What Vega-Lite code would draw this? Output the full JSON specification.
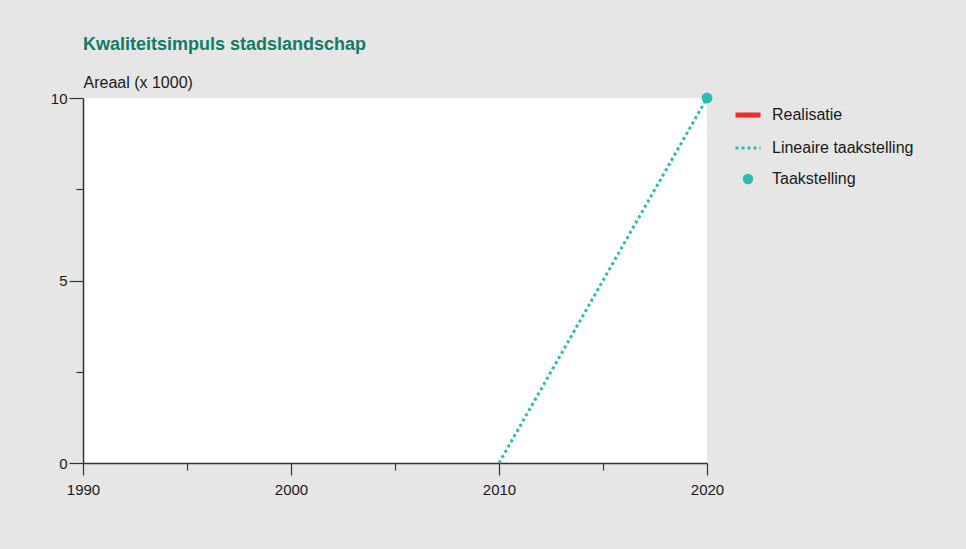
{
  "$schema": "https://vega.github.io/schema/vega-lite/v6.json",
  "width": 624,
  "height": 365,
  "autosize": {"type": "none"},
  "padding": {"left": 83, "top": 98, "right": 259, "bottom": 86},
  "background": "#e6e6e6",
  "title": {
    "text": "Kwaliteitsimpuls stadslandschap",
    "anchor": "start",
    "frame": "group",
    "font": "Liberation Sans",
    "fontSize": 18,
    "fontWeight": "bold",
    "color": "#137a6a",
    "baseline": "alphabetic",
    "offset": 6
  },
  "config": {
    "view": {"stroke": null, "fill": "#ffffff"},
    "axis": {
      "domainColor": "#333333",
      "domainWidth": 1.5,
      "tickColor": "#333333",
      "tickWidth": 1.2,
      "grid": false,
      "labelFont": "Liberation Sans",
      "labelFontSize": 15,
      "labelColor": "#1a1a1a",
      "titleFont": "Liberation Sans",
      "titleFontWeight": "normal",
      "titleFontSize": 16,
      "titleColor": "#1a1a1a"
    }
  },
  "layer": [
    {
      "data": {
        "values": [
          {"serie": "Lineaire taakstelling", "jaar": 2010, "waarde": 0},
          {"serie": "Lineaire taakstelling", "jaar": 2020, "waarde": 10}
        ]
      },
      "mark": {"type": "line", "strokeWidth": 3, "strokeDash": [3, 3], "clip": false},
      "encoding": {
        "x": {
          "field": "jaar",
          "type": "quantitative",
          "scale": {"domain": [1990, 2020], "nice": false, "zero": false},
          "axis": {
            "title": null,
            "values": [1990, 1995, 2000, 2005, 2010, 2015, 2020],
            "labelExpr": "datum.value % 10 === 0 ? datum.value : ''",
            "tickSize": {"condition": {"test": "datum.value % 10 === 0", "value": 12}, "value": 7},
            "labelPadding": 7,
            "labelFlush": false
          }
        },
        "y": {
          "field": "waarde",
          "type": "quantitative",
          "scale": {"domain": [0, 10], "nice": false},
          "axis": {
            "title": "Areaal (x 1000)",
            "titleAngle": 0,
            "titleAlign": "left",
            "titleBaseline": "alphabetic",
            "titleX": 0,
            "titleY": -11,
            "values": [0, 2.5, 5, 7.5, 10],
            "labelExpr": "datum.value % 5 === 0 ? datum.value : ''",
            "tickSize": {"condition": {"test": "datum.value % 5 === 0", "value": 14}, "value": 7},
            "encode": {"ticks": {"update": {"x": {"signal": "datum.value % 5 === 0 ? 0 : -3"}}}},
            "labelPadding": 2
          }
        },
        "color": {
          "field": "serie",
          "type": "nominal",
          "scale": {
            "domain": ["Realisatie", "Lineaire taakstelling", "Taakstelling"],
            "range": ["#ee2a2a", "#29bcb9", "#29bcb9"]
          },
          "legend": {
            "title": null,
            "orient": "none",
            "legendX": 657,
            "legendY": 9,
            "labelFont": "Liberation Sans",
            "labelFontSize": 16,
            "labelColor": "#1a1a1a",
            "labelOffset": 16,
            "rowPadding": 15,
            "symbolSize": 625,
            "encode": {
              "symbols": {
                "update": {
                  "shape": {"signal": "datum.value === 'Taakstelling' ? 'circle' : 'stroke'"},
                  "size": {"signal": "datum.value === 'Taakstelling' ? 110 : 625"},
                  "strokeDash": {"signal": "datum.value === 'Lineaire taakstelling' ? [3, 3] : []"},
                  "strokeWidth": {"signal": "datum.value === 'Taakstelling' ? 0 : (datum.value === 'Realisatie' ? 5 : 3)"},
                  "stroke": {"signal": "datum.value === 'Realisatie' ? '#ee2a2a' : '#29bcb9'"},
                  "fill": {"signal": "datum.value === 'Taakstelling' ? '#29bcb9' : 'transparent'"},
                  "opacity": {"value": 1}
                }
              }
            }
          }
        }
      }
    },
    {
      "data": {
        "values": [
          {"serie": "Taakstelling", "jaar": 2020, "waarde": 10}
        ]
      },
      "mark": {"type": "point", "filled": true, "size": 120, "opacity": 1, "clip": false},
      "encoding": {
        "x": {"field": "jaar", "type": "quantitative"},
        "y": {"field": "waarde", "type": "quantitative"},
        "color": {"field": "serie", "type": "nominal"}
      }
    }
  ]
}
